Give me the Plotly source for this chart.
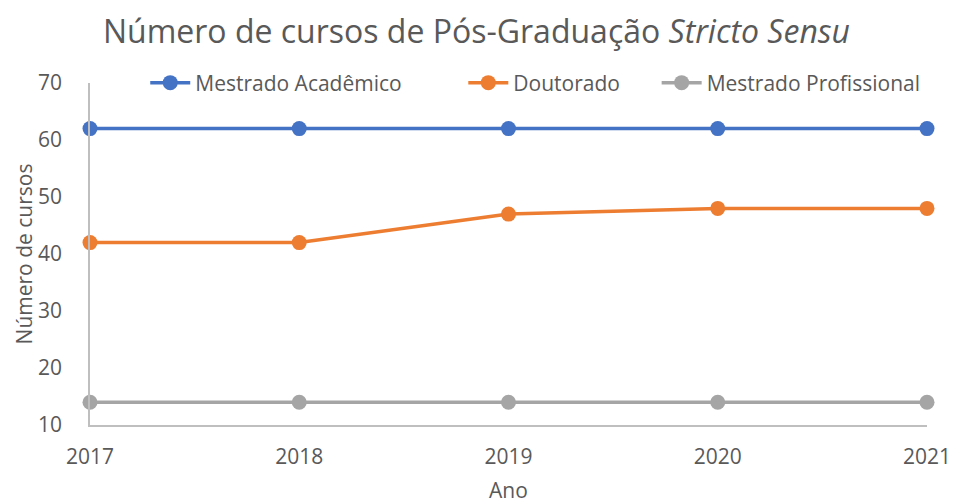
import plotly.graph_objects as go

anos = [2017, 2018, 2019, 2020, 2021]
mestrado_academico = [62, 62, 62, 62, 62]
doutorado = [42, 42, 47, 48, 48]
mestrado_profissional = [14, 14, 14, 14, 14]

series = [
    ("Mestrado Acadêmico", mestrado_academico, "#4472C4", "legend", 0.066),
    ("Doutorado", doutorado, "#ED7D31", "legend2", 0.446),
    ("Mestrado Profissional", mestrado_profissional, "#A5A5A5", "legend3", 0.677),
]

FONT = "Open Sans"
TXT = "#595959"
fig = go.Figure()
legends = {}
for nome, vals, cor, leg, lx in series:
    fig.add_trace(go.Scatter(
        x=anos, y=vals, name=nome, mode="lines+markers",
        line=dict(color=cor, width=3.5),
        marker=dict(color=cor, size=15),
        cliponaxis=False, legend=leg,
    ))
    legends[leg] = dict(orientation="h", x=lx, xanchor="left", y=1.0, yanchor="middle",
                        font=dict(size=21, color=TXT, family=FONT),
                        bgcolor="rgba(0,0,0,0)", itemwidth=40)

fig.update_layout(
    width=953, height=504,
    margin=dict(l=90, r=26, t=83, b=79, autoexpand=False),
    paper_bgcolor="white", plot_bgcolor="white",
    font=dict(family=FONT, color=TXT, size=21),
    title=dict(text="Número de cursos de Pós-Graduação <i>Stricto Sensu</i>",
               x=0.5, xref="container", xanchor="center", y=1 - 32 / 504, yref="container",
               yanchor="middle",
               font=dict(size=32, color=TXT, family=FONT)),
    showlegend=True,
    **legends,
)
fig.update_xaxes(
    range=[2017, 2021], tickvals=anos, ticktext=[str(a) for a in anos],
    showgrid=False, zeroline=False, showline=True, linecolor="#BFBFBF", linewidth=1.5,
    ticks="", ticklabelstandoff=12,
    title=dict(text="Ano", font=dict(size=21, color=TXT), standoff=23),
)
fig.update_yaxes(
    range=[10, 70], dtick=10,
    showgrid=False, zeroline=False, showline=True, linecolor="#BFBFBF", linewidth=1.5,
    ticks="", ticklabelstandoff=22,
    title=dict(text="Número de cursos", font=dict(size=21, color=TXT), standoff=0),
)
fig.write_html("out.html", config={"displayModeBar": False},
               post_script="document.body.style.margin='0';document.body.style.overflow='hidden';")
